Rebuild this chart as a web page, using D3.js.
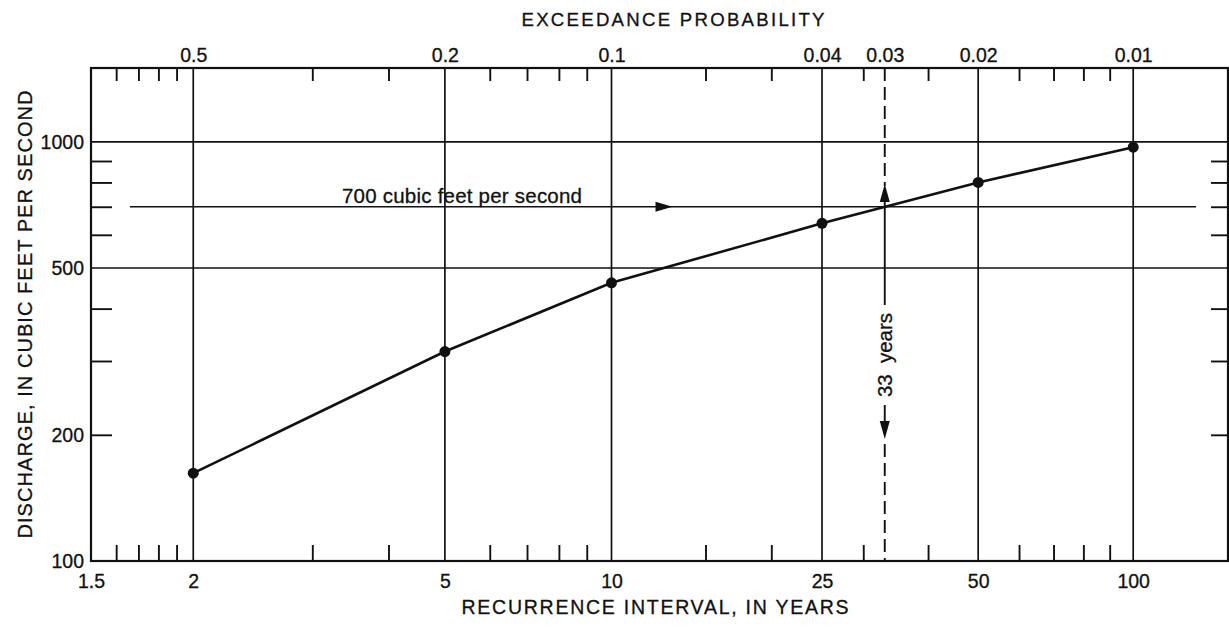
<!DOCTYPE html>
<html>
<head>
<meta charset="utf-8">
<script src="https://cdn.jsdelivr.net/npm/d3@7"></script>
<style>
  body { margin: 0; background: #fff; }
  svg { display: block; }
  text { font-family: "Liberation Sans", Arial, sans-serif; fill: #111; stroke: #111; stroke-width: 0.3px; }
</style>
</head>
<body>
<svg id="chart" width="1229" height="627"></svg>
<script>
// Flood-frequency curve on Gumbel probability paper:
// discharge (log scale) versus recurrence interval / exceedance probability.
const recurrenceYears = [2, 5, 10, 25, 50, 100];
const dischargeCfs = [162, 316, 461, 639, 800, 971];

const intervalTicks = [1.5, 2, 5, 10, 25, 50, 100];
const intervalLabels = ["1.5", "2", "5", "10", "25", "50", "100"];
const intervalGrid = [2, 5, 10, 25, 50, 100];
const intervalMinor = [1.6, 1.7, 1.8, 1.9, 3, 4, 6, 7, 8, 9, 15, 20, 30, 40, 60, 70, 80, 90];

const probabilityTicks = [2, 5, 10, 25, 33, 50, 100];
const probabilityLabels = ["0.5", "0.2", "0.1", "0.04", "0.03", "0.02", "0.01"];

const dischargeTicks = [100, 200, 500, 1000];
const dischargeGrid = [500, 1000];
const dischargeMinor = [200, 300, 400, 600, 700, 800, 900];

const thresholdCfs = 700;
const thresholdYears = 33;

const intervalDomain = [1.5, 153];
const dischargeDomain = [100, 1500];

const W = 1229, H = 627;
const m = { left: 91, right: 1, top: 68, bottom: 66 };
const plotL = m.left, plotR = W - m.right, plotT = m.top, plotB = H - m.bottom;

// Gumbel reduced variate of the annual exceedance probability 1/T
const gumbel = T => -Math.log(-Math.log(1 - 1 / T));

const xg = d3.scaleLinear().domain(intervalDomain.map(gumbel)).range([plotL, plotR]);
const x = T => xg(gumbel(T));
const y = d3.scaleLog().domain(dischargeDomain).range([plotB, plotT]);

const svg = d3.select("#chart");
const ink = "#111";
const fs = "19.5px";

// grid lines
svg.append("g").selectAll("line").data(intervalGrid).join("line")
  .attr("x1", d => x(d)).attr("x2", d => x(d))
  .attr("y1", plotT).attr("y2", plotB)
  .attr("stroke", ink).attr("stroke-width", 1.7);

svg.append("g").selectAll("line").data(dischargeGrid).join("line")
  .attr("x1", plotL).attr("x2", plotR)
  .attr("y1", d => y(d)).attr("y2", d => y(d))
  .attr("stroke", ink).attr("stroke-width", 1.7);

// minor ticks (inward) on all four sides
function styleAxis(g) {
  g.select(".domain").remove();
  g.selectAll(".tick line").attr("stroke", ink).attr("stroke-width", 1.9);
  g.selectAll("text").attr("font-size", fs).attr("fill", ink);
}

svg.append("g").attr("transform", `translate(0,${plotB})`)
  .call(d3.axisBottom(xg).tickValues(intervalMinor.map(gumbel)).tickSize(-16).tickFormat(""))
  .call(styleAxis);
svg.append("g").attr("transform", `translate(0,${plotT})`)
  .call(d3.axisTop(xg).tickValues(intervalMinor.map(gumbel)).tickSize(-13).tickFormat(""))
  .call(styleAxis);
svg.append("g").attr("transform", `translate(${plotL},0)`)
  .call(d3.axisLeft(y).tickValues(dischargeMinor).tickSize(-21).tickFormat(""))
  .call(styleAxis);
svg.append("g").attr("transform", `translate(${plotR},0)`)
  .call(d3.axisRight(y).tickValues(dischargeMinor).tickSize(-17).tickFormat(""))
  .call(styleAxis);

// labelled axes
svg.append("g").attr("transform", `translate(0,${plotB})`)
  .call(d3.axisBottom(xg).tickValues(intervalTicks.map(gumbel)).tickSize(0).tickPadding(13)
    .tickFormat((d, i) => intervalLabels[i]))
  .call(styleAxis);
svg.append("g").attr("transform", `translate(0,${plotT})`)
  .call(d3.axisTop(xg).tickValues(probabilityTicks.map(gumbel)).tickSize(0).tickPadding(6)
    .tickFormat((d, i) => probabilityLabels[i]))
  .call(styleAxis);
svg.append("g").attr("transform", `translate(${plotL},0)`)
  .call(d3.axisLeft(y).tickValues(dischargeTicks).tickSize(0).tickPadding(7)
    .tickFormat(d3.format("d")))
  .call(styleAxis);

// frame
svg.append("rect")
  .attr("x", plotL).attr("y", plotT)
  .attr("width", plotR - plotL).attr("height", plotB - plotT)
  .attr("fill", "none").attr("stroke", ink).attr("stroke-width", 2.2);

// 700 cfs threshold line with arrow
const yT = y(thresholdCfs);
svg.append("line")
  .attr("x1", plotL + 39).attr("x2", plotR - 32)
  .attr("y1", yT).attr("y2", yT)
  .attr("stroke", ink).attr("stroke-width", 1.7);
const ax = x(13);
svg.append("path")
  .attr("d", `M${ax},${yT} L${ax - 17},${yT - 5} L${ax - 17},${yT + 5} Z`)
  .attr("fill", ink);
svg.append("text")
  .attr("x", plotL + 251).attr("y", yT - 4)
  .attr("font-size", "20.5px")
  .attr("textLength", 240).attr("lengthAdjust", "spacing")
  .text("700 cubic feet per second");

// 33-year recurrence marker
const xm = x(thresholdYears);
const vm = svg.append("g").attr("stroke", ink).attr("stroke-width", 1.9);
vm.append("line").attr("x1", xm).attr("x2", xm).attr("y1", plotT).attr("y2", 186)
  .attr("stroke-dasharray", "13,6");
vm.append("line").attr("x1", xm).attr("x2", xm).attr("y1", 198).attr("y2", 305);
vm.append("line").attr("x1", xm).attr("x2", xm).attr("y1", 405).attr("y2", 425);
vm.append("line").attr("x1", xm).attr("x2", xm).attr("y1", 444).attr("y2", plotB)
  .attr("stroke-dasharray", "13,6");
svg.append("path")
  .attr("d", `M${xm},184 L${xm - 5},202 L${xm + 5},202 Z`).attr("fill", ink);
svg.append("path")
  .attr("d", `M${xm},439 L${xm - 5},421 L${xm + 5},421 Z`).attr("fill", ink);
svg.append("text")
  .attr("transform", `translate(${xm + 7},355) rotate(-90)`)
  .attr("text-anchor", "middle")
  .attr("font-size", "20.5px")
  .attr("textLength", 84).attr("lengthAdjust", "spacing")
  .style("white-space", "pre")
  .text("33  years");

// frequency curve
svg.append("path")
  .datum(recurrenceYears.map((T, i) => [T, dischargeCfs[i]]))
  .attr("d", d3.line().x(d => x(d[0])).y(d => y(d[1])))
  .attr("fill", "none").attr("stroke", ink).attr("stroke-width", 2.6);
svg.append("g").selectAll("circle")
  .data(recurrenceYears.map((T, i) => [T, dischargeCfs[i]]))
  .join("circle")
  .attr("cx", d => x(d[0])).attr("cy", d => y(d[1])).attr("r", 5.5)
  .attr("fill", ink);

// axis titles
svg.append("text")
  .attr("x", 673).attr("y", 26).attr("text-anchor", "middle")
  .attr("font-size", "18.6px")
  .attr("textLength", 303).attr("lengthAdjust", "spacing")
  .text("EXCEEDANCE PROBABILITY");
svg.append("text")
  .attr("x", 655).attr("y", 614).attr("text-anchor", "middle")
  .attr("font-size", "19.5px")
  .attr("textLength", 387).attr("lengthAdjust", "spacing")
  .text("RECURRENCE INTERVAL, IN YEARS");
svg.append("text")
  .attr("transform", `translate(32,${(plotT + plotB) / 2}) rotate(-90)`)
  .attr("text-anchor", "middle")
  .attr("font-size", "20px")
  .attr("textLength", 448).attr("lengthAdjust", "spacing")
  .text("DISCHARGE, IN CUBIC FEET PER SECOND");
</script>
</body>
</html>
